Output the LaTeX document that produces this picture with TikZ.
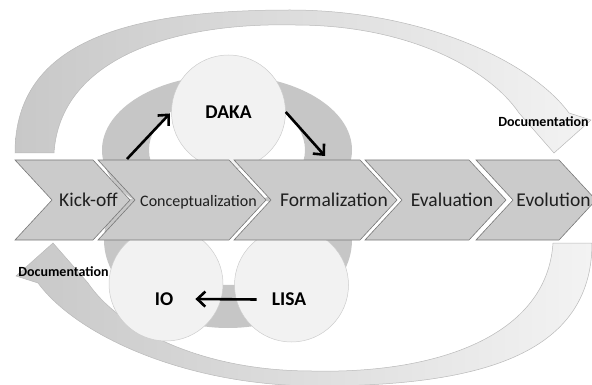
\documentclass[tikz,border=0pt]{standalone}
\usepackage{fontspec}
\setmainfont{Carlito}
\usetikzlibrary{arrows.meta}
\definecolor{chevfill}{RGB}{203,203,203}
\definecolor{chevline}{RGB}{120,120,120}
\definecolor{ringfill}{RGB}{198,198,198}
\definecolor{bubblefill}{RGB}{242,242,242}
\definecolor{bubbleline}{RGB}{205,205,205}
\definecolor{arcdark}{RGB}{200,200,200}
\definecolor{arclight}{RGB}{243,243,243}
\definecolor{arcline}{RGB}{185,185,185}
\begin{document}
\begin{tikzpicture}[x=1pt,y=-1pt,
  chevron/.style={fill=chevfill, draw=chevline, line width=0.6pt, line join=miter},
  phase/.style={font=\fontsize{19.5}{20}\selectfont, text=black!88, inner sep=0pt, anchor=base},
  bubble/.style={circle, fill=bubblefill, draw=bubbleline, line width=0.5pt, minimum size=114pt, inner sep=0pt},
  bubbletext/.style={font=\bfseries\fontsize{19.5}{20}\selectfont, inner sep=0pt},
  doclabel/.style={font=\bfseries\fontsize{14}{15}\selectfont, inner sep=0pt},
  flow/.style={line width=2.6pt, -{Straight Barb[length=8pt,width=15pt]}},
  docarc/.style={left color=arcdark, right color=arclight, draw=arcline, line width=0.5pt},
]
\useasboundingbox (0,0) rectangle (592,385);

% documentation loop: curved block arrow from the tail at the left to the head at the right
\def\docarrow{%
  \path[docarc] (15,153) .. controls (15,40) and (130,10) .. (290,10)
    .. controls (420,10) and (530,60) .. (569,113)
    -- (591,120) -- (554,153) -- (519,113)
    .. controls (490,70) and (410,25) .. (295,25)
    .. controls (170,22) and (60,60) .. (54,153) -- cycle;}
\docarrow
% the same arrow turned half round for the lower return
\begin{scope}[rotate around={180:(303.5,198)}]
\docarrow
\end{scope}

% inner cycle rings
\begin{scope}
\clip (0,0) rectangle (592,200);
\fill[ringfill, even odd rule] (227,150) ellipse [x radius=125, y radius=75]
                               (227,150) ellipse [x radius=78, y radius=55];
\end{scope}
\begin{scope}
\clip (0,200) rectangle (592,385);
\fill[ringfill, even odd rule] (228,240) ellipse [x radius=124, y radius=88]
                               (228,240) ellipse [x radius=78, y radius=45];
\end{scope}

% tools
\node[bubble, font=\bfseries\fontsize{19.5}{20}\selectfont] (daka) at (228.5,112) {DAKA};
\node[bubble] (io) at (166,284) {};
\node[bubble] (lisa) at (291.5,285) {};
\node[bubbletext] (iot) at (164,299) {IO};
\node[bubbletext] (lisat) at (289,299.5) {LISA};

% process chevrons
\foreach \a/\b in {15/93, 98/229, 234/360, 365/469, 476/559}
  \path[chevron] (\a,160) -- (\b,160) -- ({\b+37},200) -- (\b,240) -- (\a,240) -- ({\a+37},200) -- cycle;

\node[phase] (kick) at (88.5,207) {Kick-off};
\node[phase, font=\fontsize{16}{17}\selectfont] (concept) at (198.5,206) {Conceptualization};
\node[phase] (formal) at (334,207) {Formalization};
\node[phase] (eval) at (452,207) {Evaluation};
\node[phase] (evol) at (553.5,207) {Evolution};

% flows between phases and tools
\coordinate (upstart) at (127,159);
\coordinate (downend) at (325,156);
\draw[flow, shorten >=2pt] (upstart) -- (daka.west);
\draw[flow] (daka.east) -- (downend);
\draw[flow] ([xshift=-15pt]lisat.west) -- ([xshift=22pt]iot.east);

% labels
\node[doclabel] (doctop) at (543.5,122) {Documentation};
\node[doclabel] (docbottom) at (63.5,272) {Documentation};
\end{tikzpicture}
\end{document}
